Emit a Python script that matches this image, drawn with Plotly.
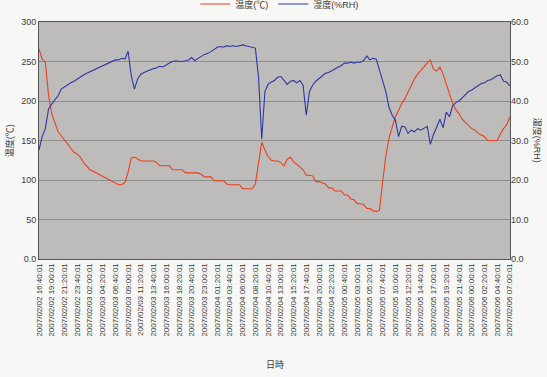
import pandas as pd
import plotly.graph_objects as go

# logging grid: one reading every 35 minutes
start_time = "2007-02-02 16:40:01"
step_minutes = 35

# temperature (℃)
temperature = [
    266, 253, 249, 207, 184, 172, 161, 156, 151, 146,
    141, 135, 133, 129, 122, 117, 113, 111, 109, 106,
    104, 102, 100, 98, 96, 94, 94, 97, 110, 128,
    129, 126, 124, 124, 124, 124, 124, 122, 118, 118,
    118, 118, 113, 113, 113, 113, 109, 109, 109, 109,
    109, 107, 104, 104, 104, 99, 99, 99, 99, 95,
    94, 94, 94, 94, 89, 89, 89, 89, 95, 120,
    148, 138, 130, 125, 124, 124, 122, 118, 126, 129,
    123, 120, 117, 113, 106, 106, 105, 98, 98, 96,
    95, 90, 90, 86, 86, 86, 81, 81, 76, 75,
    70, 70, 69, 64, 64, 61, 60, 62, 98, 130,
    153, 168, 180, 188, 197, 203, 212, 221, 228, 234,
    239, 244, 248, 252, 240, 238, 243, 234, 222, 208,
    197, 189, 184, 177, 173, 168, 165, 163, 159, 157,
    155, 150, 150, 150, 150, 158, 165, 170, 180,
]

# humidity (%RH)
humidity = [
    27.6, 31.0, 33.0, 38.0, 39.2, 40.4, 41.4, 43.0, 43.6, 44.2,
    44.6, 45.0, 45.6, 46.0, 46.6, 47.0, 47.4, 47.6, 48.2, 48.6,
    49.0, 49.4, 49.6, 50.2, 50.4, 50.4, 50.8, 50.6, 52.6, 46.4,
    43.0, 45.6, 46.8, 47.2, 47.6, 47.8, 48.2, 48.4, 48.8, 48.6,
    49.2, 49.6, 50.0, 50.2, 50.0, 50.0, 50.2, 50.4, 51.0, 50.2,
    50.8, 51.4, 51.8, 52.0, 52.4, 53.0, 53.6, 53.8, 53.6, 54.0,
    53.8, 54.0, 53.8, 54.0, 54.2, 54.0, 53.8, 53.6, 53.4, 46.0,
    30.4, 42.4, 44.2, 44.8, 45.2, 46.0, 46.2, 45.2, 44.2, 45.0,
    45.2, 44.6, 45.2, 44.0, 36.4, 42.4, 44.0, 45.0, 45.6, 46.4,
    47.0, 47.2, 47.6, 48.0, 48.4, 49.0, 49.6, 49.6, 49.8, 49.6,
    49.8, 49.8, 50.2, 51.4, 50.4, 50.8, 50.6, 48.0, 45.2, 42.4,
    38.4, 36.4, 35.2, 31.0, 33.6, 33.4, 31.8, 32.6, 32.2, 33.0,
    32.6, 33.0, 33.6, 29.0, 31.6, 33.4, 35.4, 33.2, 37.2, 36.0,
    38.8, 39.6, 40.0, 40.8, 41.6, 42.4, 42.8, 43.4, 43.8, 44.4,
    44.6, 45.2, 45.4, 46.0, 46.4, 46.6, 45.0, 44.8, 43.8,
]

tick_labels = [
    "2007/02/02 16:40:01", "2007/02/02 19:00:01", "2007/02/02 21:20:01", "2007/02/02 23:40:01",
    "2007/02/03 02:00:01", "2007/02/03 04:20:01", "2007/02/03 06:40:01", "2007/02/03 09:00:01",
    "2007/02/03 11:20:01", "2007/02/03 13:40:01", "2007/02/03 16:00:01", "2007/02/03 18:20:01",
    "2007/02/03 20:40:01", "2007/02/03 23:00:01", "2007/02/04 01:20:01", "2007/02/04 03:40:01",
    "2007/02/04 06:00:01", "2007/02/04 08:20:01", "2007/02/04 10:40:01", "2007/02/04 13:00:01",
    "2007/02/04 15:20:01", "2007/02/04 17:40:01", "2007/02/04 20:00:01", "2007/02/04 22:20:01",
    "2007/02/05 00:40:01", "2007/02/05 03:00:01", "2007/02/05 05:20:01", "2007/02/05 07:40:01",
    "2007/02/05 10:00:01", "2007/02/05 12:20:01", "2007/02/05 14:40:01", "2007/02/05 17:00:01",
    "2007/02/05 19:20:01", "2007/02/05 21:40:01", "2007/02/06 00:00:01", "2007/02/06 02:20:01",
    "2007/02/06 04:40:01", "2007/02/06 07:00:01",
]

temp_ticks = [0, 50, 100, 150, 200, 250, 300]
temp_tick_text = ["0.0", "50", "100", "150", "200", "250", "300"]
hum_ticks = [0, 10, 20, 30, 40, 50, 60]
hum_tick_text = ["0.0", "10.0", "20.0", "30.0", "40.0", "50.0", "60.0"]

times = pd.date_range(start_time, periods=len(temperature), freq=f"{step_minutes}min")
tick_times = pd.to_datetime([s.replace("/", "-") for s in tick_labels])

FONT = "Liberation Sans, Arial, Noto Sans CJK JP, sans-serif"
TXT = "#3a3a3a"

fig = go.Figure()
fig.add_trace(go.Scatter(x=times, y=temperature, mode="lines", name="温度(℃)",
                         line=dict(color="#ec3f1e", width=1.1), yaxis="y"))
fig.add_trace(go.Scatter(x=times, y=humidity, mode="lines", name="湿度(%RH)",
                         line=dict(color="#2a38a6", width=1.1), yaxis="y2"))

x_end = tick_times[-1] + pd.Timedelta(minutes=1)
fig.update_layout(
    width=547, height=377,
    margin=dict(l=39, r=37, t=22, b=118, autoexpand=False),
    paper_bgcolor="#f7f7f5",
    plot_bgcolor="#bdbcba",
    font=dict(family=FONT, size=9, color=TXT),
    showlegend=True,
    legend=dict(orientation="h", x=0.51, xanchor="center", y=1.076, yanchor="middle",
                bgcolor="rgba(0,0,0,0)", font=dict(size=9, color=TXT),
                itemwidth=30, tracegroupgap=0),
    xaxis=dict(
        range=[times[0], x_end],
        tickvals=tick_times, ticktext=tick_labels, tickangle=-90,
        tickfont=dict(size=8, color=TXT), automargin=False,
        showgrid=False, showline=True, linecolor="#555555", linewidth=1, mirror=True,
        ticks="", zeroline=False,
    ),
    yaxis=dict(
        range=[0, 300], tickvals=temp_ticks, ticktext=temp_tick_text,
        tickfont=dict(size=9, color=TXT), automargin=False,
        showgrid=True, gridcolor="#8e8e8e", gridwidth=1,
        showline=True, linecolor="#555555", linewidth=1, mirror=True,
        ticks="", zeroline=False,
    ),
    yaxis2=dict(
        range=[0, 60], tickvals=hum_ticks, ticktext=hum_tick_text,
        overlaying="y", side="right", showgrid=False, automargin=False,
        tickfont=dict(size=9, color=TXT), ticks="", zeroline=False,
    ),
    annotations=[
        dict(text="温度(℃)", xref="paper", yref="paper", x=-0.062, y=0.5,
             textangle=-90, showarrow=False, font=dict(size=9, color=TXT),
             xanchor="center", yanchor="middle"),
        dict(text="湿度(%RH)", xref="paper", yref="paper", x=1.059, y=0.5,
             textangle=90, showarrow=False, font=dict(size=9, color=TXT),
             xanchor="center", yanchor="middle"),
        dict(text="日時", xref="paper", yref="paper", x=0.501, y=-0.447,
             showarrow=False, font=dict(size=9, color=TXT),
             xanchor="center", yanchor="middle"),
    ],
)

fig.write_html("out.html", config={"displayModeBar": False},
               post_script="document.body.style.margin='0';document.body.style.overflow='hidden';")
